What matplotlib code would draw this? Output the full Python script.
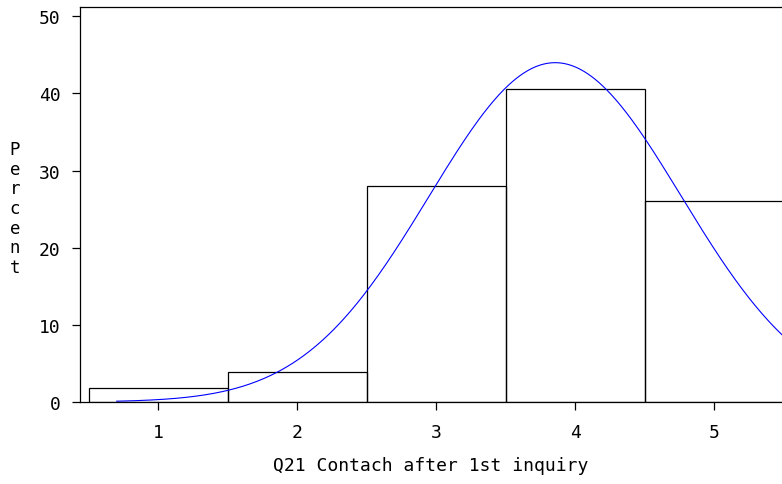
import matplotlib
matplotlib.use('Agg')
import matplotlib.pyplot as plt
import numpy as np

# response levels and percent of respondents in each
levels = [1, 2, 3, 4, 5]
percents = [1.77, 3.85, 28.0, 40.6, 26.0]

# fitted normal curve parameters
mu = 3.855
sigma = 0.907

y_ticks = [0, 10, 20, 30, 40, 50]

plt.rcParams['font.family'] = 'DejaVu Sans Mono'
plt.rcParams['lines.linewidth'] = 0.75

fig = plt.figure(figsize=(7.82, 4.85), dpi=100)
ax = fig.add_axes([80 / 782, 82 / 485, 702 / 782, 395 / 485])

ax.bar(levels, percents, width=1.0, fill=False, edgecolor='black', linewidth=0.9)

xs = np.linspace(0.7, 5.6, 400)
curve = 100 / (sigma * np.sqrt(2 * np.pi)) * np.exp(-0.5 * ((xs - mu) / sigma) ** 2)
ax.plot(xs, curve, color='#0000ff', linewidth=0.8)

ax.set_xlim(0.436, 5.487)
ax.set_ylim(0, 51.2)
ax.set_xticks(levels)
ax.set_yticks(y_ticks)
ax.spines['right'].set_visible(False)
for s in ['left', 'top', 'bottom']:
    ax.spines[s].set_linewidth(0.9)
ax.tick_params(direction='out', length=6, width=0.9, labelsize=13, pad=8)
ax.tick_params(axis='x', pad=9)

ax.set_xlabel('Q21 Contach after 1st inquiry', fontsize=13, labelpad=11)
fig.text(15 / 782, 1 - 209 / 485, 'P\ne\nr\nc\ne\nn\nt', fontsize=12.5, ha='center',
         va='center', linespacing=1.12)

fig.savefig('out.png', dpi=100)
